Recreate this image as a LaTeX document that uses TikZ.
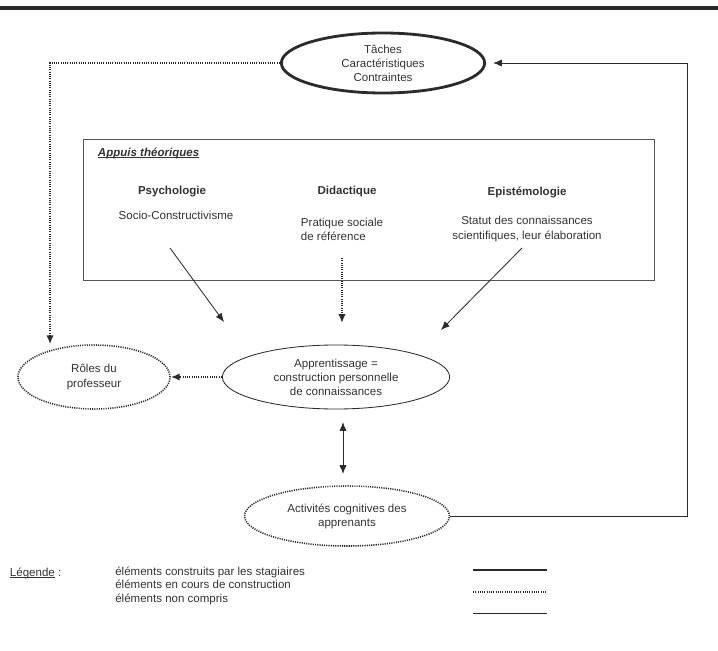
\documentclass[tikz,border=0pt]{standalone}
\usepackage{fontspec}
\setmainfont{Liberation Sans}
\usetikzlibrary{arrows.meta, shapes.geometric}

\definecolor{txtgray}{HTML}{333333}
\definecolor{linegray}{HTML}{2B2B2B}
\definecolor{framegray}{HTML}{555555}

\newcommand\ulbase[1]{\setbox0\hbox{#1}\rlap{\rule[-1.3pt]{\wd0}{0.5pt}}\box0\relax}

\begin{document}
\begin{tikzpicture}[
        x=0.025cm, y=-0.025cm,
        >={Latex[length=2.2mm, width=1.8mm]},
        every node/.style={font=\fontsize{8.2}{10}\selectfont, text=txtgray},
        bubble/.style={draw=linegray, ellipse, inner sep=0pt, align=center},
        firm/.style={line width=2pt, draw=linegray},
        dotline/.style={line width=1.1pt, dash pattern=on 0.8pt off 0.8pt, draw=linegray},
        plain/.style={line width=0.6pt, draw=linegray}
    ]
        \useasboundingbox (0,0) rectangle (718,651);
        \draw[line width=2.2pt, linegray] (0,8) -- (718,8);

        % ellipses
        \node[bubble, firm, minimum width=5.08cm, minimum height=1.5cm]  (taches)  at (383,63)  {T\^aches\\Caract\'eristiques\\Contraintes};
        \node[bubble, dotline, minimum width=3.8cm, minimum height=1.6cm] (roles)  at (94,377)  {R\^oles du\\professeur};
        \node[bubble, plain, minimum width=5.68cm, minimum height=1.6cm]  (appr)   at (336,377) {Apprentissage =\\construction personnelle\\de connaissances};
        \node[bubble, dotline, minimum width=5.12cm, minimum height=1.5cm] (activ) at (347,516) {Activit\'es cognitives des\\apprenants};

        % theory box
        \node[draw=framegray, line width=0.6pt, minimum width=14.275cm, minimum height=3.525cm] (appuis) at (368.5,209.5) {};
        \node[anchor=west] (appuistitle) at (93,153) {\ulbase{\bfseries\itshape Appuis th\'eoriques}};
        \node (psy)    at (172,192) {\bfseries Psychologie};
        \node (socio)  at (176,215) {Socio-Constructivisme};
        \node (did)    at (347,192) {\bfseries Didactique};
        \node[anchor=west, align=left] (pratique) at (296,229) {Pratique sociale\\de r\'ef\'erence};
        \node (epi)    at (527,192) {\bfseries Epist\'emologie};
        \node[align=center] (statut) at (527,229) {Statut des connaissances\\scientifiques, leur \'elaboration};

        \coordinate (psyout) at (170,248);
        \coordinate (psyin)  at (224,322);
        \coordinate (didout) at (342,258);
        \coordinate (didin)  at (342,323);
        \coordinate (epiout) at (522,248);
        \coordinate (epiin)  at (441,330);
        \coordinate (tl) at (50,63);
        \coordinate (tr) at (687,63);

        \draw[plain, ->] (psyout) -- (psyin);
        \draw[dotline, ->] (didout) -- (didin);
        \draw[plain, ->] (epiout) -- (epiin);

        \draw[dotline, ->] (taches.west) -- (tl) -- (tl |- roles.north);
        \draw[dotline, ->] (appr.west) -- (roles.east);
        \draw[plain, <->, shorten <=9pt, shorten >=8pt] (appr.south -| 343,0) -- (activ.north -| 343,0);
        \draw[plain, ->, shorten >=5pt] (activ.east) -| (tr) -- (taches.east);

        % legend
        \node[anchor=west] (leg) at (5,573) {\ulbase{L\'egende} :};
        \node[anchor=north west, align=left, inner sep=0pt] (legtxt) at (115,567) {\'el\'ements construits par les stagiaires\\[-0.6pt]\'el\'ements en cours de construction\\[-0.6pt]\'el\'ements non compris};
        \coordinate (la1) at (473,570); \coordinate (lb1) at (547,570);
        \coordinate (la2) at (473,592); \coordinate (lb2) at (547,592);
        \coordinate (la3) at (473,613); \coordinate (lb3) at (547,613);
        \draw[firm] (la1) -- (lb1);
        \draw[dotline] (la2) -- (lb2);
        \draw[plain] (la3) -- (lb3);
    \end{tikzpicture}
\end{document}
